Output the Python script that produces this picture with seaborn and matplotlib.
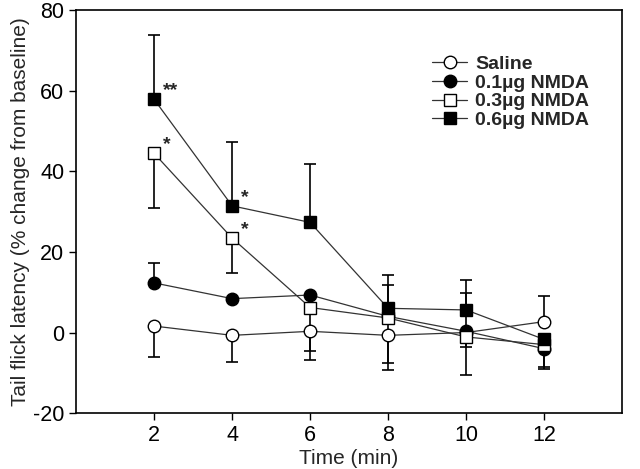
import numpy as np
import pandas as pd
import seaborn as sns
from matplotlib import pyplot as plt

sns.set_style("ticks")
plt.rcParams['font.family'] = ['Liberation Sans', 'DejaVu Sans']
plt.rcParams['axes.unicode_minus'] = False

time_min = [2, 4, 6, 8, 10, 12]
groups = ["Saline", "0.1µg NMDA", "0.3µg NMDA", "0.6µg NMDA"]

saline = [1.6, -0.7, 0.3, -0.7, 0.0, 2.7]
nmda_01 = [12.3, 8.4, 9.3, 4.0, 0.3, -4.0]
nmda_03 = [44.4, 23.4, 6.2, 3.6, -1.1, -3.0]
nmda_06 = [57.8, 31.4, 27.3, 6.0, 5.6, -1.7]

# one-sided SEM bars (lower, upper)
saline_lo = [7.6, 6.5, 7.0, 8.5, 10.6, 0.0]
saline_hi = [0.0, 0.0, 0.0, 0.0, 0.0, 6.3]
nmda_01_lo = [0.0, 0.0, 0.0, 11.5, 0.0, 5.0]
nmda_01_hi = [5.0, 0.0, 0.0, 0.0, 9.4, 0.0]
nmda_03_lo = [13.6, 8.6, 10.8, 0.0, 2.5, 0.0]
nmda_03_hi = [0.0, 0.0, 0.0, 8.2, 0.0, 0.0]
nmda_06_lo = [0.0, 0.0, 0.0, 0.0, 0.0, 6.8]
nmda_06_hi = [15.9, 15.9, 14.4, 8.2, 7.3, 0.0]

values = [saline, nmda_01, nmda_03, nmda_06]
err_lo = [saline_lo, nmda_01_lo, nmda_03_lo, nmda_06_lo]
err_hi = [saline_hi, nmda_01_hi, nmda_03_hi, nmda_06_hi]
markers = ["o", "o", "s", "s"]
faces = ["white", "black", "white", "black"]

stars = [(2, 57.8, "**"), (2, 44.4, "*"), (4, 31.4, "*"), (4, 23.4, "*")]

fig = plt.figure(figsize=(6.4, 4.69), dpi=100)
ax = fig.add_axes([0.119, 0.119, 0.853, 0.86])

for name, vals, lo, hi, mk, fc in zip(groups, values, err_lo, err_hi, markers, faces):
    ax.errorbar(time_min, vals, yerr=[lo, hi], fmt="none", ecolor="black",
                elinewidth=1.2, capsize=4, capthick=1.2, zorder=2)
    df = pd.DataFrame({"Time": time_min, "Value": vals})
    sns.lineplot(data=df, x="Time", y="Value", ax=ax, color="#333333", linewidth=0.9,
                 marker=mk, markersize=9 if mk == "o" else 8.5, markerfacecolor=fc,
                 markeredgecolor="black", markeredgewidth=1, label=name, zorder=3)

for x, y, s in stars:
    ax.annotate(s, (x, y), xytext=(6, 0), textcoords="offset points",
                fontsize=14, fontweight="bold", va="bottom", ha="left")

ax.set_xlim(0, 14)
ax.set_ylim(-20, 80)
ax.set_xticks(time_min)
ax.set_yticks([-20, 0, 20, 40, 60, 80])
ax.tick_params(labelsize=15.5, length=5, width=1, colors="black", direction="out")
ax.set_xlabel("Time (min)", fontsize=15, labelpad=2)
ax.set_ylabel("Tail flick latency (% change from baseline)", fontsize=15, labelpad=2)
for sp in ax.spines.values():
    sp.set_linewidth(1.2)
    sp.set_color("black")

leg = ax.legend(loc="upper left", bbox_to_anchor=(0.62, 0.93), frameon=False,
                handlelength=1.8, handletextpad=0.4, labelspacing=0.05,
                prop={"size": 14, "weight": "bold"})

fig.savefig("out.png", dpi=100)
